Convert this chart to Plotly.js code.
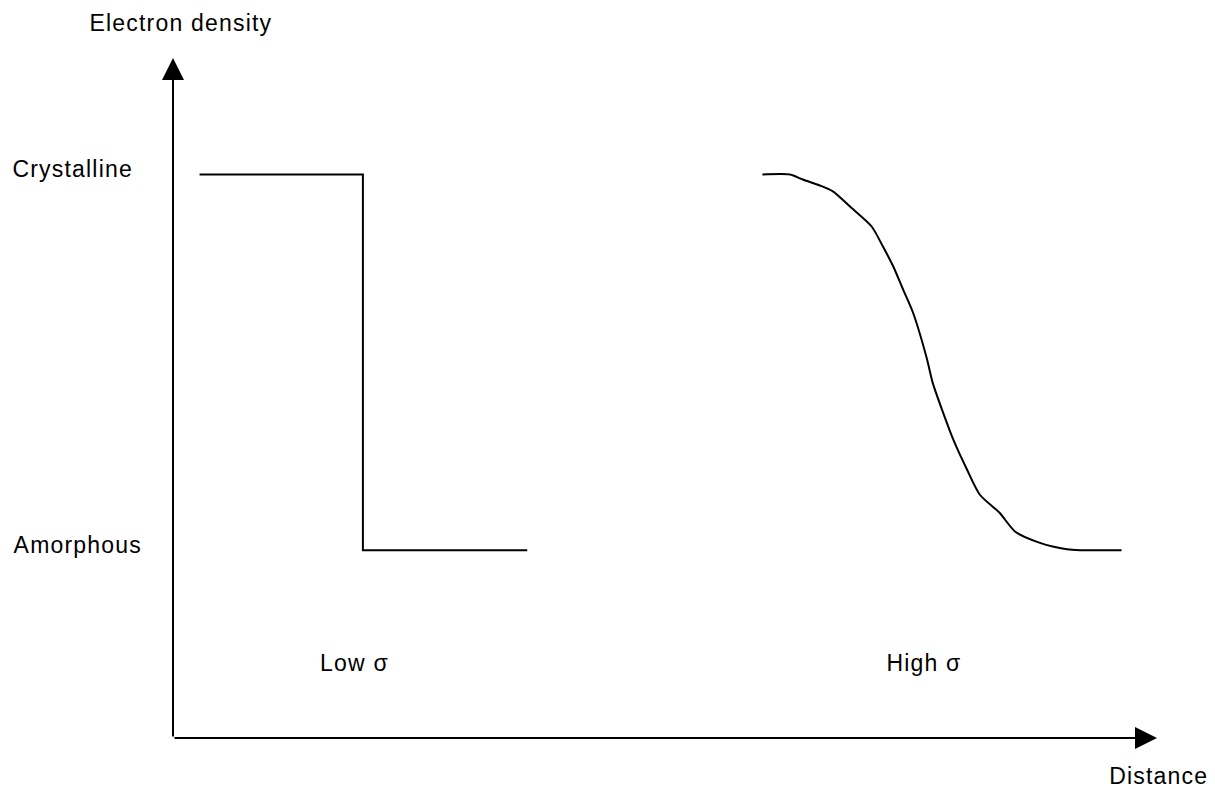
<!DOCTYPE html>
<html>
<head>
<meta charset="utf-8">
<script src="https://cdn.plot.ly/plotly-3.0.1.min.js"></script>
<style>
html,body{margin:0;padding:0;background:#fff;}
#chart{width:1215px;height:789px;}
#chart .annotation-text{letter-spacing:1.2px;}
</style>
</head>
<body>
<div id="chart"></div>
<script>
// Low sigma: sharp step interface
var lowX = [2.7, 19.3, 19.3, 36.0];
var lowY = [3, 3, 1, 1];
// High sigma: diffuse interface
var highX = [59.9, 62.7, 64.0, 65.75, 67.1, 68.8, 71.0, 72.15, 73.2, 74.2, 75.2, 76.6, 77.2, 78.15, 79.3, 80.7, 82.0, 84.0, 85.6, 88.1, 90.85, 92.2, 96.4];
var highY = [3.0, 3.0, 2.973, 2.941, 2.909, 2.829, 2.723, 2.616, 2.510, 2.387, 2.265, 2.022, 1.892, 1.748, 1.588, 1.428, 1.295, 1.199, 1.098, 1.039, 1.005, 1.0, 1.0];
// Level labels
var levelNames = ["Amorphous", "Crystalline"];
var levelValues = [1, 3];
var regionNames = ["Low σ", "High σ"];
var regionX = [18.4, 76.3];
var regionY = 0.4;
var xTitle = "Distance";
var yTitle = "Electron density";
var xMax = 100, yMax = 3.62;

var font = {family: "Liberation Sans, Arial, sans-serif", size: 23, color: "#000"};
var lineStyle = {color: "#000", width: 2};

var traces = [
  {x: lowX, y: lowY, mode: "lines", line: lineStyle, hoverinfo: "skip"},
  {x: highX, y: highY, mode: "lines", line: Object.assign({shape: "spline", smoothing: 0.7}, lineStyle), hoverinfo: "skip"}
];

var annotations = [];
// axes with arrows
annotations.push({x: xMax, y: 0, ax: 0, ay: 0, xref: "x", yref: "y", axref: "x", ayref: "y",
  text: "", showarrow: true, arrowhead: 2, arrowsize: 2.2, arrowwidth: 2, arrowcolor: "#000"});
annotations.push({x: 0, y: yMax, ax: 0, ay: 0, xref: "x", yref: "y", axref: "x", ayref: "y",
  text: "", showarrow: true, arrowhead: 2, arrowsize: 2.2, arrowwidth: 2, arrowcolor: "#000"});
// level labels
for (var i = 0; i < levelNames.length; i++) {
  annotations.push({x: -0.159, xref: "paper", xanchor: "left", y: levelValues[i], yref: "y", yanchor: "middle", yshift: 5,
    text: levelNames[i], showarrow: false, font: font});
}
// region labels
for (var j = 0; j < regionNames.length; j++) {
  annotations.push({x: regionX[j], y: regionY, xref: "x", yref: "y", xanchor: "center", yanchor: "middle",
    text: regionNames[j], showarrow: false, font: font});
}
// axis titles
annotations.push({x: 0.008, y: 1.0, xref: "paper", yref: "paper", xanchor: "center", yanchor: "bottom", yshift: 20,
  text: yTitle, showarrow: false, font: font});
annotations.push({x: 1.0488, y: 0, xref: "paper", yref: "paper", xanchor: "right", yanchor: "top", yshift: -23,
  text: xTitle, showarrow: false, font: font});

var layout = {
  width: 1215, height: 789,
  margin: {l: 173, r: 58, t: 58, b: 51, pad: 0},
  paper_bgcolor: "#fff", plot_bgcolor: "#fff",
  showlegend: false,
  xaxis: {range: [0, xMax], visible: false, fixedrange: true},
  yaxis: {range: [0, yMax], visible: false, fixedrange: true},
  annotations: annotations
};

Plotly.newPlot("chart", traces, layout, {displayModeBar: false, staticPlot: true});
</script>
</body>
</html>
